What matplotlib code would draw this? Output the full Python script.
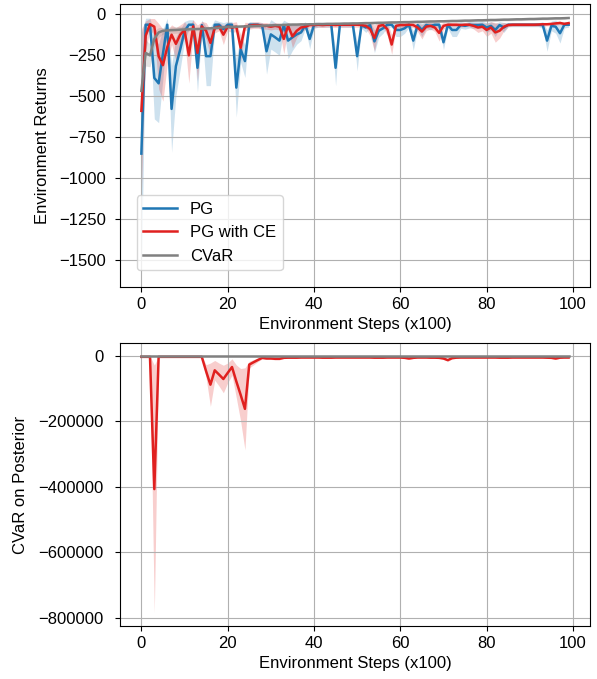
import numpy as np
import matplotlib
matplotlib.use("Agg")
import matplotlib.pyplot as plt

plt.rcParams['font.family'] = ['Liberation Sans', 'DejaVu Sans']
plt.rcParams['font.size'] = 12

steps = np.arange(100)

pg_mean = [-850, -63, -63, -388, -421, -240, -63, -577, -316, -214,
           -103, -63, -63, -326, -65, -255, -255, -63, -63, -90,
           -63, -63, -447, -213, -285, -63, -63, -63, -70, -225,
           -122, -140, -160, -65, -160, -140, -122, -110, -65, -150,
           -65, -63, -63, -63, -63, -326, -63, -63, -63, -63,
           -255, -65, -80, -65, -165, -100, -85, -63, -63, -95,
           -95, -85, -63, -160, -65, -95, -65, -70, -63, -63,
           -170, -65, -95, -95, -65, -70, -63, -65, -65, -63,
           -80, -70, -95, -65, -80, -63, -63, -63, -63, -63,
           -63, -63, -63, -65, -160, -70, -75, -115, -63, -63]
pg_std = [736, 40, 40, 250, 240, 150, 40, 265, 180, 120,
          60, 30, 30, 150, 30, 180, 180, 30, 20, 40,
          20, 20, 180, 80, 100, 20, 15, 15, 20, 140,
          90, 90, 90, 30, 110, 80, 60, 50, 20, 60,
          20, 15, 15, 15, 15, 110, 15, 15, 15, 15,
          90, 20, 30, 20, 70, 40, 30, 15, 15, 40,
          40, 30, 15, 60, 20, 40, 20, 25, 15, 15,
          45, 20, 40, 40, 20, 20, 20, 20, 20, 20,
          30, 25, 40, 20, 30, 12, 12, 12, 12, 12,
          12, 12, 12, 20, 65, 30, 40, 60, 20, 15]

ce_mean = [-589, -130, -60, -75, -255, -310, -200, -124, -180, -124,
           -95, -250, -73, -235, -73, -100, -174, -83, -75, -124,
           -75, -80, -75, -204, -73, -70, -65, -65, -70, -70,
           -75, -70, -75, -150, -70, -134, -100, -80, -75, -65,
           -65, -63, -65, -63, -63, -65, -63, -63, -63, -63,
           -63, -65, -70, -90, -144, -70, -65, -90, -184, -70,
           -65, -65, -63, -65, -80, -105, -75, -70, -80, -113,
           -70, -63, -63, -63, -65, -63, -63, -70, -80, -75,
           -95, -80, -110, -100, -75, -65, -63, -63, -63, -63,
           -63, -63, -62, -60, -60, -58, -55, -52, -58, -53]
ce_std = [500, 90, 35, 50, 200, 220, 100, 60, 100, 60,
          50, 170, 40, 170, 30, 50, 80, 30, 25, 60,
          25, 30, 30, 80, 25, 20, 20, 20, 20, 20,
          20, 20, 20, 90, 20, 70, 40, 30, 15, 15,
          15, 15, 15, 15, 15, 15, 15, 15, 15, 15,
          15, 15, 15, 40, 80, 25, 15, 40, 60, 15,
          15, 15, 15, 15, 25, 45, 25, 20, 25, 50,
          20, 12, 12, 12, 12, 12, 12, 20, 30, 25,
          40, 35, 60, 45, 25, 10, 10, 10, 10, 10,
          10, 10, 10, 10, 10, 10, 10, 10, 10, 10]

cvar_mean = [-467, -235, -250, -150, -110, -100, -98, -96, -95, -93,
             -92, -91, -90, -89, -88, -86, -85, -83, -81, -79,
             -77, -76, -75, -74, -73, -72, -71, -70, -69, -68,
             -67, -66, -65, -64, -63, -62, -62, -61, -61, -60,
             -60, -59, -59, -58, -58, -57, -57, -56, -56, -55,
             -55, -54, -53, -53, -52, -51, -51, -50, -49, -49,
             -48, -47, -47, -46, -45, -45, -44, -43, -43, -42,
             -42, -41, -40, -40, -39, -38, -38, -37, -36, -36,
             -35, -34, -34, -33, -32, -32, -31, -30, -30, -29,
             -28, -28, -27, -26, -26, -25, -24, -24, -23, -22]
cvar_std = [200, 80, 70, 50, 30, 20, 20, 20, 20, 20,
            20, 10, 10, 10, 10, 10, 10, 10, 10, 10,
            8, 8, 8, 8, 8, 8, 8, 8, 8, 8,
            8, 8, 8, 8, 8, 8, 8, 8, 8, 8,
            8, 8, 8, 8, 8, 8, 8, 8, 8, 8,
            8, 8, 8, 8, 8, 8, 8, 8, 8, 8,
            8, 8, 8, 8, 8, 8, 8, 8, 8, 8,
            8, 8, 8, 8, 8, 8, 8, 8, 8, 8,
            8, 8, 8, 8, 8, 8, 8, 8, 8, 8,
            8, 8, 8, 8, 8, 8, 8, 8, 8, 1]

post_ce_mean = [-4000, -4000, -4000, -407000, -4000, -4000, -4000, -4000, -4000, -4000,
                -4000, -4000, -4000, -4000, -4000, -48000, -88900, -45000, -58000, -71500,
                -53000, -35000, -78700, -119500, -162500, -27600, -20400, -13500, -7100, -9000,
                -9000, -10000, -10000, -7000, -6500, -6500, -6500, -6000, -6000, -6000,
                -6000, -6000, -6500, -6500, -6500, -6000, -6000, -6000, -6000, -6000,
                -6000, -6000, -6000, -6000, -6500, -6500, -6500, -6000, -6000, -6000,
                -6000, -7000, -9000, -7000, -6000, -6000, -6000, -6500, -6500, -7000,
                -9000, -14000, -8000, -6500, -6000, -6000, -6000, -6000, -6000, -6000,
                -6000, -6000, -6000, -6500, -6500, -6500, -6000, -6000, -6000, -6000,
                -6000, -6000, -6000, -6000, -6500, -7000, -9000, -6500, -6000, -6000]
post_ce_std = [2000, 2000, 2000, 378000, 2000, 2000, 2000, 2000, 2000, 2000,
               2000, 2000, 2000, 2000, 2000, 20000, 66000, 30000, 35000, 42000,
               30000, 25000, 50000, 80000, 125000, 10000, 8000, 5000, 3000, 3000,
               3000, 3000, 3000, 2000, 2000, 2000, 2000, 2000, 2000, 2000,
               2000, 2000, 2000, 2000, 2000, 2000, 2000, 2000, 2000, 2000,
               2000, 2000, 2000, 2000, 2000, 2000, 2000, 2000, 2000, 2000,
               2000, 2000, 3000, 2000, 2000, 2000, 2000, 2000, 2000, 2000,
               3000, 4000, 2000, 2000, 2000, 2000, 2000, 2000, 2000, 2000,
               2000, 2000, 2000, 2000, 2000, 2000, 2000, 2000, 2000, 2000,
               2000, 2000, 2000, 2000, 2000, 2000, 3000, 2000, 2000, 2000]

post_cvar_mean = [-1000, -1000, -1000, -1000, -1000, -1000, -1000, -1000, -1000, -1000,
                  -1000, -1000, -1000, -1000, -1000, -1000, -1000, -1000, -1000, -1000,
                  -1000, -1000, -1000, -1000, -1000, -1000, -1000, -1000, -1000, -1000,
                  -1000, -1000, -1000, -1000, -1000, -1000, -1000, -1000, -1000, -1000,
                  -1000, -1000, -1000, -1000, -1000, -1000, -1000, -1000, -1000, -1000,
                  -1000, -1000, -1000, -1000, -1000, -1000, -1000, -1000, -1000, -1000,
                  -1000, -1000, -1000, -1000, -1000, -1000, -1000, -1000, -1000, -1000,
                  -1000, -1000, -1000, -1000, -1000, -1000, -1000, -1000, -1000, -1000,
                  -1000, -1000, -1000, -1000, -1000, -1000, -1000, -1000, -1000, -1000,
                  -1000, -1000, -1000, -1000, -1000, -1000, -1000, -1000, -1000, -1000]

BLUE = '#1f77b4'
RED = '#e0201f'
GRAY = '#808080'

fig = plt.figure(figsize=(5.97, 6.79), dpi=100)
ax1 = fig.add_axes([120/597, 1-287/679, 470/597, 283/679])
ax2 = fig.add_axes([120/597, 1-626/679, 470/597, 283/679])

def band(ax, m, s, color, label):
    m = np.asarray(m, float)
    s = np.asarray(s, float)
    ax.plot(steps, m, color=color, lw=1.8, label=label)
    ax.fill_between(steps, m - s, m + s, color=color, alpha=0.22, lw=0)

band(ax1, pg_mean, pg_std, BLUE, 'PG')
band(ax1, ce_mean, ce_std, RED, 'PG with CE')
band(ax1, cvar_mean, cvar_std, GRAY, 'CVaR')
ax1.set_ylabel('Environment Returns', labelpad=7)
ax1.set_xlabel('Environment Steps (x100)')
ax1.tick_params(axis='y', pad=6.5)
ax1.grid(True)
ax1.legend(loc='lower left', borderaxespad=1.0)

band(ax2, post_ce_mean, post_ce_std, RED, 'PG with CE')
ax2.plot(steps, post_cvar_mean, color=GRAY, lw=1.8)
ax2.set_ylabel('CVaR on Posterior', labelpad=7)
ax2.set_xlabel('Environment Steps (x100)')
ax2.tick_params(axis='y', pad=8.5)
ax2.grid(True)

fig.savefig('out.png', dpi=100)
